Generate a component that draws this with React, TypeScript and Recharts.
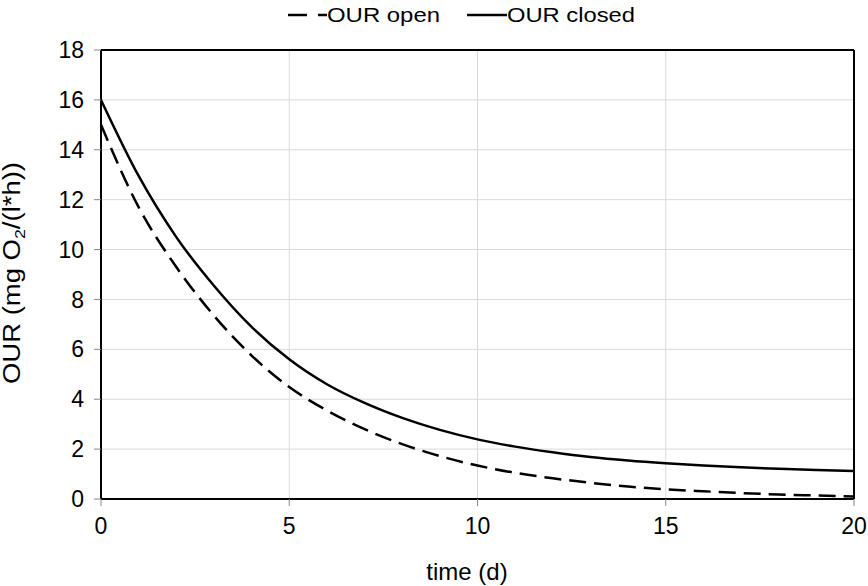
import { LineChart, Line, XAxis, YAxis, CartesianGrid, ReferenceLine, Legend, Label } from 'recharts';

// ─── data ────────────────────────────────────────────────────────────────────
const days = [0, 1, 2, 3, 4, 5, 6, 7, 8, 9, 10, 11, 12, 13, 14, 15, 16, 17, 18, 19, 20];
const ourOpen = [15, 11.7, 9.3, 7.35, 5.75, 4.49, 3.55, 2.8, 2.2, 1.72, 1.34, 1.05, 0.83, 0.65, 0.5, 0.39, 0.31, 0.24, 0.18, 0.14, 0.1];
const ourClosed = [16, 12.95, 10.5, 8.55, 6.9, 5.6, 4.6, 3.85, 3.25, 2.77, 2.39, 2.1, 1.87, 1.68, 1.54, 1.43, 1.34, 1.27, 1.21, 1.16, 1.12];
const xTicks = [0, 5, 10, 15, 20];
const yTicks = [0, 2, 4, 6, 8, 10, 12, 14, 16, 18];

const FONT = "'Liberation Sans', Arial, sans-serif";

const data = days.map((d, i) => ({ day: d, open: ourOpen[i], closed: ourClosed[i] }));

function LegendBox() {
  return (
    <svg width={868} height={30} style={{ display: 'block' }}>
      <line x1={288} y1={15} x2={327} y2={15} stroke="#000" strokeWidth={2.5} strokeDasharray="19 11" />
      <text x={327} y={22} fontFamily={FONT} fontSize={21} fill="#000" textLength={113} lengthAdjust="spacingAndGlyphs">OUR open</text>
      <line x1={467} y1={15} x2={507} y2={15} stroke="#000" strokeWidth={2.5} />
      <text x={507} y={22} fontFamily={FONT} fontSize={21} fill="#000" textLength={128} lengthAdjust="spacingAndGlyphs">OUR closed</text>
    </svg>
  );
}

function YTitle() {
  return (
    <text transform="translate(20,273) rotate(-90)" textAnchor="middle" fontFamily={FONT} fontSize={23} fill="#000"
      textLength={222} lengthAdjust="spacingAndGlyphs">
      OUR (mg O<tspan dy={5} fontSize={15}>2</tspan><tspan dy={-5}>/(l*h))</tspan>
    </text>
  );
}

function XTitle() {
  return (
    <text x={467} y={580} textAnchor="middle" fontFamily={FONT} fontSize={24} fill="#000">time (d)</text>
  );
}

export default function App() {
  return (
    <div style={{ position: 'absolute', left: 0, top: 0, width: 868, height: 586, background: '#fff' }}>
      <LineChart width={868} height={586} data={data} margin={{ top: 20, right: 14, left: 0, bottom: 0 }}>
        <CartesianGrid stroke="#d9d9d9" strokeWidth={1} vertical horizontal />
        <XAxis
          dataKey="day" type="number" domain={[0, 20]} ticks={xTicks} height={87}
          tickSize={7} tickMargin={12}
          axisLine={{ stroke: '#000', strokeWidth: 2 }} tickLine={{ stroke: '#888' }}
          tick={{ fontFamily: FONT, fontSize: 23, fill: '#000' }}
        >
          <Label content={() => <XTitle />} />
        </XAxis>
        <YAxis
          type="number" domain={[0, 18]} ticks={yTicks} width={101}
          tickSize={7} tickMargin={10}
          axisLine={{ stroke: '#000', strokeWidth: 2 }} tickLine={{ stroke: '#888' }}
          tick={{ fontFamily: FONT, fontSize: 23, fill: '#000' }}
        >
          <Label content={() => <YTitle />} />
        </YAxis>
        <ReferenceLine y={18} stroke="#000" strokeWidth={2} />
        <ReferenceLine x={20} stroke="#000" strokeWidth={2} />
        <Legend verticalAlign="top" height={30} wrapperStyle={{ top: 0, left: 0, width: 868 }} content={() => <LegendBox />} />
        <Line type="monotone" dataKey="open" name="OUR open" stroke="#000" strokeWidth={2.5} strokeDasharray="17 8" dot={false} isAnimationActive={false} />
        <Line type="monotone" dataKey="closed" name="OUR closed" stroke="#000" strokeWidth={2.5} dot={false} isAnimationActive={false} />
      </LineChart>
    </div>
  );
}
